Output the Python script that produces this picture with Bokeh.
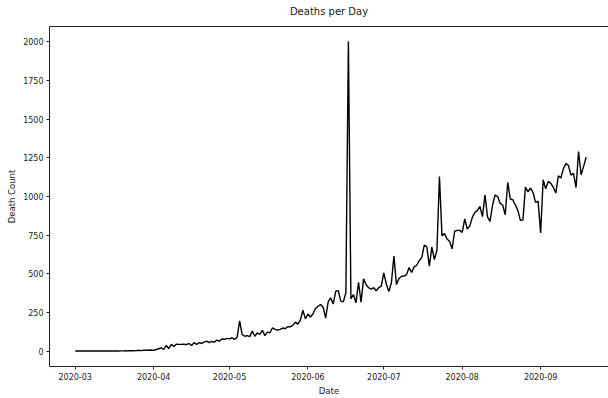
import pandas as pd
from datetime import datetime
from bokeh.plotting import figure
from bokeh.models import (Range1d, DatetimeTickFormatter, MonthsTicker, FixedTicker,
                          ColumnDataSource, LinearAxis)
from bokeh.embed import file_html
from bokeh.resources import INLINE

# ---- data ----
start_date = "2020-03-01"
deaths_mar = [0, 0, 0, 0, 0, 0, 0, 0, 0, 0, 1, 0, 1, 0, 0, 0, 1, 0, 1, 1,
              0, 3, 2, 2, 3, 5, 3, 5, 6, 5, 7]
deaths_apr = [4, 10, 15, 21, 10, 36, 15, 43, 30, 45, 43, 43, 45, 41, 49, 36, 54, 43, 55, 49,
              58, 64, 54, 62, 58, 71, 64, 79, 75, 82]
deaths_may = [79, 86, 75, 88, 196, 107, 96, 100, 93, 129, 96, 118, 107, 135, 100, 122, 118, 151, 140, 135,
              140, 149, 144, 157, 157, 166, 187, 174, 200, 264, 208]
deaths_jun = [240, 220, 241, 275, 290, 301, 284, 213, 318, 344, 305, 387, 391, 323, 318, 377, 2003, 338, 366, 312,
              445, 316, 467, 430, 410, 400, 410, 390, 410, 420]
deaths_jul = [506, 434, 385, 442, 615, 430, 470, 484, 485, 495, 540, 508, 545, 555, 585, 605, 685, 675, 549, 672,
              592, 652, 1130, 747, 760, 725, 710, 661, 775, 781, 781]
deaths_aug = [768, 855, 790, 810, 865, 897, 910, 936, 870, 1010, 868, 839, 945, 1010, 1000, 955, 945, 882, 1091, 984,
              979, 945, 910, 846, 848, 1061, 1030, 1055, 1026, 962, 970]
deaths_sep = [764, 1108, 1050, 1098, 1085, 1060, 1023, 1134, 1120, 1180, 1214, 1200, 1138, 1150, 1058, 1291, 1141,
              1195, 1255]
y_ticks = [0, 250, 500, 750, 1000, 1250, 1500, 1750, 2000]
title_text = "Deaths per Day"
x_label = "Date"
y_label = "Death Count"

deaths = deaths_mar + deaths_apr + deaths_may + deaths_jun + deaths_jul + deaths_aug + deaths_sep
dates = pd.date_range(start_date, periods=len(deaths), freq="D")
source = ColumnDataSource(data=dict(date=dates, deaths=deaths))

FONT = "DejaVu Sans"
TXT = "#1a1a1a"
EDGE = "#222222"

x_start = datetime(2020, 2, 19, 20, 0)
x_end = datetime(2020, 9, 27, 20, 0)
y_start, y_end = -100, 2100

p = figure(width=608, height=398, x_axis_type="datetime",
           output_backend="svg", toolbar_location=None,
           x_range=Range1d(x_start, x_end), y_range=Range1d(y_start, y_end),
           min_border_left=49, min_border_right=0, min_border_top=26, min_border_bottom=31)

p.line(x="date", y="deaths", source=source, line_color="black", line_width=1.4)

bottom_axis = p.below[0]
left_axis = p.left[0]

p.xgrid.visible = False
p.ygrid.visible = False
p.background_fill_color = "white"
p.border_fill_color = "white"
p.outline_line_color = None

bottom_axis.ticker = MonthsTicker(months=list(range(1, 13)))
bottom_axis.formatter = DatetimeTickFormatter(months="%Y-%m", days="%Y-%m", years="%Y-%m")
left_axis.ticker = FixedTicker(ticks=y_ticks)
bottom_axis.axis_label = x_label
left_axis.axis_label = y_label

for ax in (bottom_axis, left_axis):
    ax.axis_line_color = EDGE
    ax.axis_line_width = 1
    ax.major_tick_in = 0
    ax.major_tick_out = 3
    ax.major_tick_line_color = EDGE
    ax.minor_tick_line_color = None
    ax.major_label_text_font = FONT
    ax.major_label_text_font_size = "8px"
    ax.major_label_text_color = TXT
    ax.axis_label_text_font = FONT
    ax.axis_label_text_font_size = "8.5px"
    ax.axis_label_text_font_style = "normal"
    ax.axis_label_text_color = TXT
    ax.axis_label_standoff = 3

bottom_axis.major_label_standoff = 3
left_axis.major_label_standoff = 3

# top spine carrying the chart title as its label (no ticks, no tick labels)
top_axis = LinearAxis(ticker=FixedTicker(ticks=[]), axis_label=title_text,
                      axis_line_color=EDGE, axis_line_width=1,
                      major_tick_line_color=None, minor_tick_line_color=None,
                      major_tick_out=0, major_tick_in=0,
                      major_label_standoff=0, major_label_text_font_size="0px",
                      axis_label_standoff=10,
                      axis_label_text_font=FONT, axis_label_text_font_size="10px",
                      axis_label_text_font_style="normal", axis_label_text_color=TXT)
p.add_layout(top_axis, "above")

open("out.html", "w").write(file_html(p, INLINE))
